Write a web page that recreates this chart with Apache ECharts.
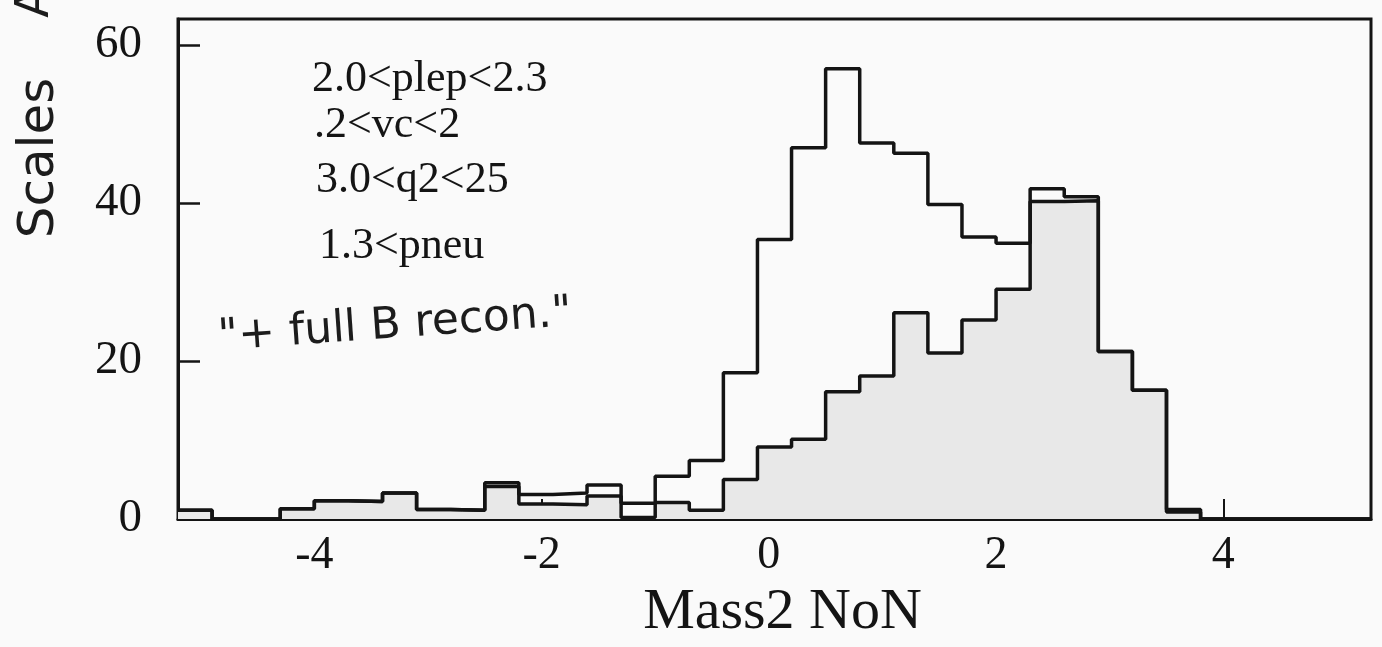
<!DOCTYPE html>
<html>
<head>
<meta charset="utf-8">
<script src="https://cdn.jsdelivr.net/npm/echarts@6/dist/echarts.min.js"></script>
<style>
  html, body { margin: 0; padding: 0; background: #fafafa; }
  #chart { width: 1382px; height: 647px; }
</style>
</head>
<body>
<div id="chart"></div>
<script>
// Bin edges (35 bins of width 0.3)
const binEdges = [-5.2, -4.9, -4.6, -4.3, -4.0, -3.7, -3.4, -3.1, -2.8, -2.5,
  -2.2, -1.9, -1.6, -1.3, -1.0, -0.7, -0.4, -0.1, 0.2, 0.5,
  0.8, 1.1, 1.4, 1.7, 2.0, 2.3, 2.6, 2.9, 3.2, 3.5,
  3.8, 4.1, 4.4, 4.7, 5.0, 5.3];

// Outer (open) histogram contents
const outerVals = [1.1, 0, 0, 1.3, 2.3, 2.2, 3.3, 1.2, 1.1, 4.6,
  3.1, 3.3, 4.3, 2.0, 5.4, 7.4, 18.5, 35.4, 47.0, 57.0,
  47.6, 46.3, 39.8, 35.7, 34.9, 41.8, 40.8, 21.2, 16.3, 1.2,
  0, 0, 0, 0, 0];

// Inner (shaded) histogram contents
const innerVals = [1.1, 0, 0, 1.3, 2.3, 2.2, 3.3, 1.2, 1.1, 4.1,
  1.9, 1.8, 2.9, 0.2, 2.1, 1.1, 5.0, 9.1, 10.1, 16.1,
  18.1, 26.1, 21.0, 25.2, 29.1, 40.2, 40.3, 21.2, 16.3, 0.9,
  0, 0, 0, 0, 0];

const xTicks = [-4, -2, 0, 2, 4];
const yTicks = [0, 20, 40, 60];
const cutLines = ['2.0<plep<2.3', '.2<vc<2', '3.0<q2<25', '1.3<pneu'];
const handNote = '"+ full B recon."';
const yTitle = 'Scales';
const xTitle = 'Mass2 NoN';

function stepData(vals) {
  return binEdges.map((e, i) => [e, vals[Math.min(i, vals.length - 1)]]);
}

const ink = '#141414';
const serif = '"Liberation Serif", "Times New Roman", serif';

const chart = echarts.init(document.getElementById('chart'), null, { renderer: 'canvas' });

const cutPos = [[312, 79], [314, 125], [316, 180], [319, 246]];

chart.setOption({
  backgroundColor: '#fafafa',
  animation: false,
  grid: {
    left: 178, right: 11, top: 19, bottom: 128,
    show: true, borderColor: ink, borderWidth: 3, backgroundColor: 'transparent'
  },
  xAxis: {
    type: 'value', min: -5.2, max: 5.3,
    name: xTitle, nameLocation: 'middle', nameGap: 64,
    nameTextStyle: { fontFamily: serif, fontSize: 58, color: ink, padding: [0, 0, 0, 16] },
    axisLine: { show: true, onZero: false, lineStyle: { color: ink, width: 3 } },
    axisTick: { show: true, inside: true, length: 20, customValues: xTicks, lineStyle: { color: ink, width: 2 } },
    axisLabel: { customValues: xTicks, fontFamily: serif, fontSize: 46, color: ink, margin: 14,
      formatter: v => String(v) },
    splitLine: { show: false }
  },
  yAxis: {
    type: 'value', min: 0, max: 63.3,
    axisLine: { show: true, onZero: false, lineStyle: { color: ink, width: 3 } },
    axisTick: { show: true, inside: true, length: 22, customValues: yTicks, lineStyle: { color: ink, width: 2.5 } },
    axisLabel: { customValues: yTicks, fontFamily: serif, fontSize: 47, color: ink, margin: 36 },
    splitLine: { show: false }
  },
  series: [
    {
      type: 'line', step: 'end', data: stepData(innerVals), symbol: 'none',
      lineStyle: { color: ink, width: 3.5 },
      areaStyle: { color: '#e8e8e8', opacity: 1 },
      z: 2
    },
    {
      type: 'line', step: 'end', data: stepData(outerVals), symbol: 'none',
      lineStyle: { color: ink, width: 3.5 },
      z: 3
    }
  ],
  graphic: [
    ...cutLines.map((t, i) => ({
      type: 'text', x: cutPos[i][0], y: cutPos[i][1], z: 10,
      style: { text: t, font: '44px ' + serif, fill: ink, textAlign: 'left', textVerticalAlign: 'middle' }
    })),
    {
      type: 'text', x: 395, y: 326, rotation: 0.07, z: 10,
      style: { text: handNote, font: '44px "DejaVu Sans"', fill: '#1c1c1c', textAlign: 'center', textVerticalAlign: 'middle' }
    },
    {
      type: 'text', x: 40, y: 158, rotation: Math.PI / 2, z: 10,
      style: { text: yTitle, font: '50px "DejaVu Sans"', fill: '#1c1c1c', textAlign: 'center', textVerticalAlign: 'middle' }
    },
    {
      type: 'text', x: 36, y: 2, rotation: Math.PI / 2, z: 10,
      style: { text: 'A', font: '46px "DejaVu Sans"', fill: '#1c1c1c', textAlign: 'center', textVerticalAlign: 'middle' }
    }
  ]
});
</script>
</body>
</html>
